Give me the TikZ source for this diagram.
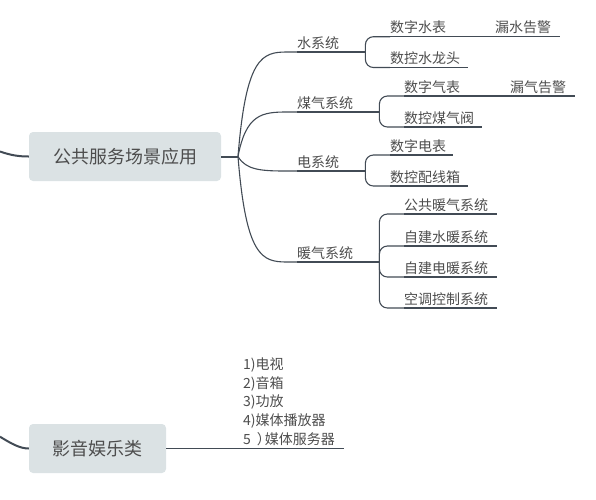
\documentclass[tikz,border=0pt]{standalone}
\usepackage{fontspec}
\setmainfont{Noto Sans CJK SC}
\usetikzlibrary{calc}
\definecolor{linec}{HTML}{424B55}
\definecolor{boxc}{HTML}{DBE2E4}
\definecolor{txtc}{HTML}{4D4D4D}
\tikzset{
  rootbox/.style={fill=boxc, rounded corners=4pt, minimum height=49pt, inner sep=0pt, text=txtc, font=\fontsize{18}{22}\selectfont},
  lvone/.style={anchor=south west, inner xsep=0pt, inner ysep=3.6pt, text height=10pt, text depth=0pt, text=txtc, font=\fontsize{14}{17}\selectfont, align=left},
  lvtwo/.style={lvone, inner ysep=3.6pt},
  listtxt/.style={anchor=base west, inner sep=0pt, align=left, text=txtc, font=\fontsize{14}{18.75}\selectfont},
  conn/.style={draw=linec, line width=1.1pt},
  thickconn/.style={draw=linec, line width=2pt},
  uline/.style={draw=linec, line width=1.1pt},
  brk/.style={conn, rounded corners=8pt},
}
\begin{document}
\begin{tikzpicture}[x=1pt, y=-1pt]
\useasboundingbox (0,0) rectangle (596,499);
\clip (0,0) rectangle (596,499);

% root 1
\node[rootbox, minimum width=192pt] (r1) at (125,156.5) {公共服务场景应用};
\coordinate (inA) at (0,151.5);
\draw[thickconn] (inA) .. controls (10,155) and (18,156.5) .. (r1.west);
\coordinate (j) at (238,156.5);
\draw[thickconn] (r1.east) -- (j);

% level 1
\node[lvone, text width=66pt] (w) at (297,52) {水系统};
\node[lvone, text width=80pt] (g) at (297,112) {煤气系统};
\node[lvone, text width=66pt] (e) at (297,171) {电系统};
\node[lvone, text width=80pt] (h) at (297,262) {暖气系统};

\draw[conn] (j) .. controls (246,57) and (262,52) .. ($(w.south west)+(-10,0)$) -- (w.south west);
\draw[conn] (j) .. controls (246,114.2) and (262,112) .. ($(g.south west)+(-10,0)$) -- (g.south west);
\draw[conn] (j) .. controls (246,170.3) and (262,171) .. ($(e.south west)+(-10,0)$) -- (e.south west);
\draw[conn] (j) .. controls (246,256.7) and (262,262) .. ($(h.south west)+(-10,0)$) -- (h.south west);

% level 2 : water
\node[lvtwo, text width=63pt] (w1) at (390,36.7) {数字水表};
\node[lvtwo, text width=65pt] (w1a) at (495,36.7) {漏水告警};
\node[lvtwo, text width=78pt] (w2) at (390,67.5) {数控水龙头};
% gas
\node[lvtwo, text width=64pt] (g1) at (404,96) {数字气表};
\node[lvtwo, text width=65pt] (g1a) at (510,96) {漏气告警};
\node[lvtwo, text width=78pt] (g2) at (404,127) {数控煤气阀};
% electric
\node[lvtwo, text width=63pt] (e1) at (390,155) {数字电表};
\node[lvtwo, text width=78pt] (e2) at (390,186) {数控配线箱};
% heating
\node[lvtwo, text width=93pt] (h1) at (404,214) {公共暖气系统};
\node[lvtwo, text width=93pt] (h2) at (404,246) {自建水暖系统};
\node[lvtwo, text width=93pt] (h3) at (404,277) {自建电暖系统};
\node[lvtwo, text width=93pt] (h4) at (404,308) {空调控制系统};

\foreach \n in {w,g,e,h,w1,w1a,w2,g1,g1a,g2,e1,e2,h1,h2,h3,h4}
  \draw[uline] (\n.south west) -- (\n.south east);

% brackets
\coordinate (wb) at ($(w.south east)+(2,0)$);
\coordinate (gb) at ($(g.south east)+(2,0)$);
\coordinate (eb) at ($(e.south east)+(2,0)$);
\coordinate (hb) at ($(h.south east)+(2,0)$);
\draw[conn] (w.south east) -- (wb);
\draw[conn] (g.south east) -- (gb);
\draw[conn] (e.south east) -- (eb);
\draw[conn] (h.south east) -- (hb);

\draw[brk] (wb) |- (w1.south west);
\draw[brk] (wb) |- (w2.south west);
\draw[uline] (w1.south east) -- (w1a.south west);
\draw[brk] (gb) |- (g1.south west);
\draw[brk] (gb) |- (g2.south west);
\draw[uline] (g1.south east) -- (g1a.south west);
\draw[brk] (eb) |- (e1.south west);
\draw[brk] (eb) |- (e2.south west);
\draw[brk] (hb) |- (h1.south west);
\draw[brk] (hb) |- (h2.south west);
\draw[brk] (hb) |- (h3.south west);
\draw[brk] (hb) |- (h4.south west);

% root 2
\node[rootbox, minimum width=137pt] (r2) at (97.5,448.5) {影音娱乐类};
\coordinate (inB) at (0,436.7);
\draw[thickconn] (inB) .. controls (12,444) and (20,448.5) .. (r2.west);
\node[listtxt, text width=101pt] (lst) at (243,369.3) {1)电视\\2)音箱\\3)功放\\4)媒体播放器\\5\kern6pt）\kern-6pt媒体服务器};
\draw[conn] (r2.east) -- (r2.east -| lst.east);
\end{tikzpicture}
\end{document}
